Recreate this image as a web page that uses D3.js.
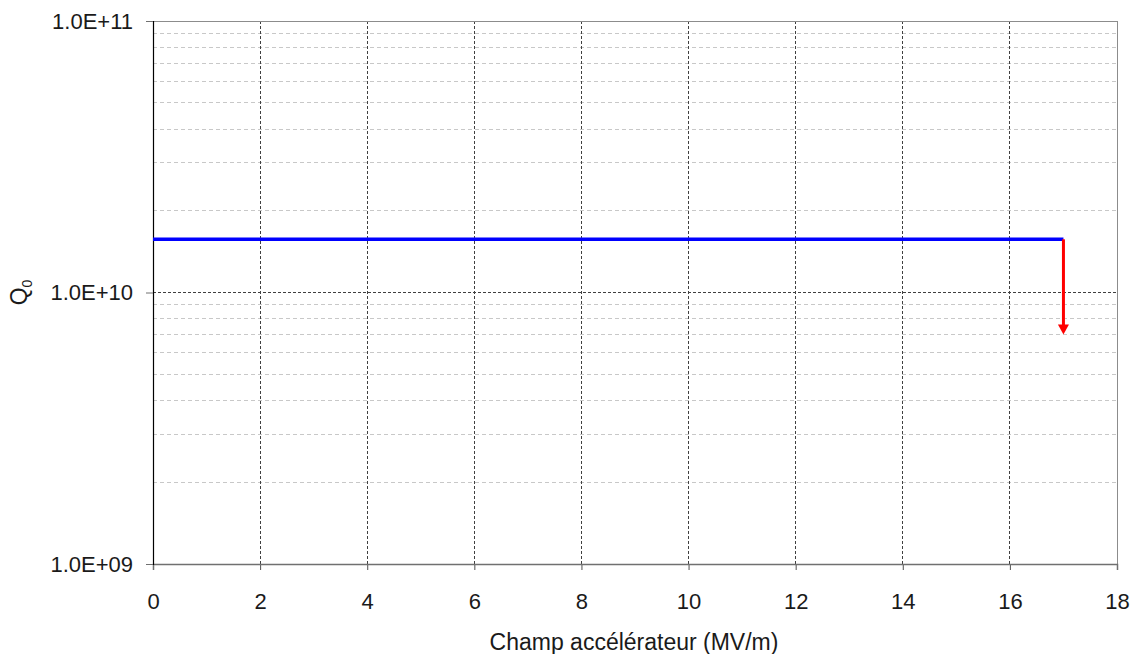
<!DOCTYPE html>
<html><head><meta charset="utf-8">
<script src="https://cdn.jsdelivr.net/npm/d3@7"></script>
<style>body{margin:0;background:#fff}svg{display:block}text{font-family:"Liberation Sans",Arial,sans-serif;fill:#1a1a1a}</style>
</head><body>
<svg id="c" width="1134" height="654"></svg>
<script>
const xTicks = [0,2,4,6,8,10,12,14,16,18];
const yMajor = [1e9,1e10,1e11];
const yTickLabels = ["1.0E+09","1.0E+10","1.0E+11"];
const seriesX = [0,17];
const seriesQ0 = [1.57e10,1.57e10];
const quenchX = [17,17];
const quenchQ0 = [1.57e10,7.0e9];

const svg = d3.select("#c");
const m = {l:153,r:1117,t:21,b:564};
const x = d3.scaleLinear().domain([0,18]).range([m.l,m.r]);
const y = d3.scaleLog().domain([1e9,1e11]).range([m.b,m.t]);

// minor grid
const minor = [];
[1e9,1e10].forEach(d=>{for(let k=2;k<=9;k++)minor.push(d*k);});
svg.append("g").selectAll("line").data(minor).join("line")
  .attr("x1",m.l).attr("x2",m.r).attr("y1",d=>y(d)).attr("y2",d=>y(d))
  .attr("stroke","#c8c8c8").attr("stroke-width",1).attr("stroke-dasharray","4,3").attr("shape-rendering","crispEdges");
// major horizontal grid
svg.append("g").selectAll("line").data([1e10]).join("line")
  .attr("x1",m.l).attr("x2",m.r).attr("y1",d=>y(d)).attr("y2",d=>y(d))
  .attr("stroke","#404040").attr("stroke-width",1).attr("stroke-dasharray","3,2").attr("shape-rendering","crispEdges");
// vertical grid
svg.append("g").selectAll("line").data(xTicks.filter(d=>d>0&&d<18)).join("line")
  .attr("x1",d=>x(d)).attr("x2",d=>x(d)).attr("y1",m.t).attr("y2",m.b)
  .attr("stroke","#404040").attr("stroke-width",1).attr("stroke-dasharray","3,2").attr("shape-rendering","crispEdges");
// frame top/right
svg.append("line").attr("x1",m.l).attr("x2",m.r).attr("y1",m.t).attr("y2",m.t).attr("stroke","#8c8c8c").attr("shape-rendering","crispEdges");
svg.append("line").attr("x1",m.r).attr("x2",m.r).attr("y1",m.t).attr("y2",m.b).attr("stroke","#8c8c8c").attr("shape-rendering","crispEdges");

// axes
const xAxis = d3.axisBottom(x).tickValues(xTicks).tickSize(6).tickPadding(23).tickFormat(d3.format("d"));
const gx = svg.append("g").attr("transform",`translate(0,${m.b})`).call(xAxis);
gx.select(".domain").attr("stroke","#707070").attr("stroke-width",1.5);
gx.selectAll(".tick line").attr("stroke","#505050");
gx.selectAll("text").style("font-size","22px").attr("fill","#1a1a1a");

const yAxis = d3.axisLeft(y).tickValues(yMajor).tickSize(7).tickPadding(13).tickFormat((d,i)=>yTickLabels[i]);
const gy = svg.append("g").attr("transform",`translate(${m.l},0)`).call(yAxis);
gy.select(".domain").attr("stroke","#000").attr("stroke-width",1.2);
gy.selectAll(".tick line").attr("stroke","#707070");
gy.selectAll("text").style("font-size","22px").attr("fill","#1a1a1a");
gx.select(".domain").raise();

// series
const line = d3.line().x(d=>x(d[0])).y(d=>y(d[1]));
svg.append("path").datum(seriesX.map((v,i)=>[v,seriesQ0[i]]))
  .attr("d",line).attr("fill","none").attr("stroke","#0000ff").attr("stroke-width",3.5);

// quench arrow
const ax = x(quenchX[0]), ay0 = y(quenchQ0[0]), ay1 = y(quenchQ0[1]);
svg.append("line").attr("x1",ax).attr("x2",ax).attr("y1",ay0).attr("y2",ay1-6)
  .attr("stroke","#ff0000").attr("stroke-width",3);
svg.append("path").attr("d",`M${ax-5.5},${ay1-10}L${ax+5.5},${ay1-10}L${ax},${ay1}Z`).attr("fill","#ff0000");

// titles
svg.append("text").attr("x",634).attr("y",650).attr("text-anchor","middle").style("font-size","23px").text("Champ accélérateur (MV/m)");
const yl = svg.append("text").attr("transform",`translate(27,${y(1e10)}) rotate(-90)`).attr("text-anchor","middle").style("font-size","23px");
yl.append("tspan").text("Q");
yl.append("tspan").attr("dy",5).style("font-size","14px").text("0");
</script>
</body></html>
